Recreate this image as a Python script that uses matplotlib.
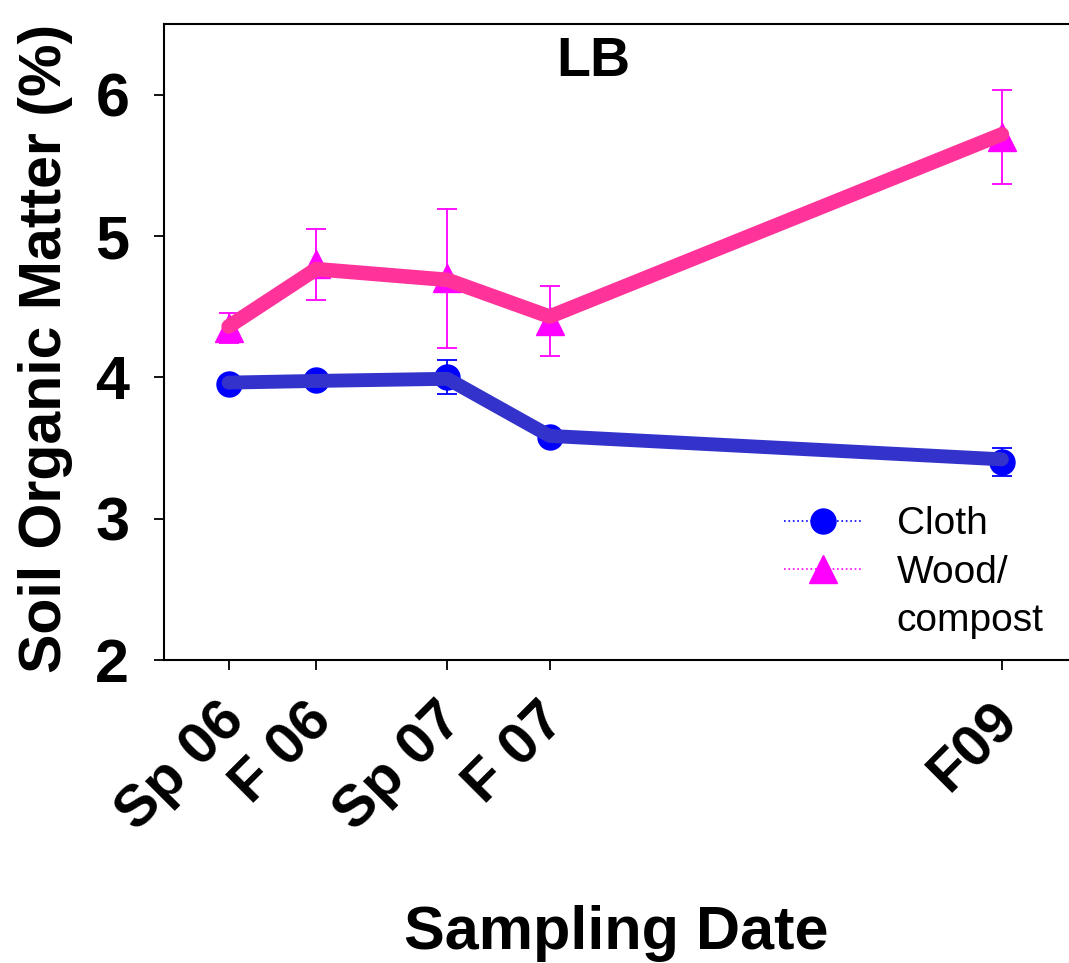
import matplotlib
matplotlib.use("Agg")
from matplotlib import pyplot as plt
from matplotlib.lines import Line2D
from matplotlib.transforms import ScaledTranslation

plt.rcParams['font.family'] = ['Liberation Sans', 'DejaVu Sans']

# sampling dates, as months after the first sampling
dates = [0, 6, 15, 22, 53]
date_labels = ["Sp 06", "F 06", "Sp 07", "F 07", "F09"]

cloth_mean = [3.955, 3.98, 4.005, 3.578, 3.40]
cloth_err = [0.04, 0.04, 0.12, 0.04, 0.10]
cloth_line = [3.963, 3.975, 3.99, 3.586, 3.42]

wood_mean = [4.35, 4.80, 4.70, 4.40, 5.70]
wood_err = [0.105, 0.25, 0.495, 0.248, 0.33]
wood_line = [4.36, 4.766, 4.69, 4.43, 5.72]

fig = plt.figure(figsize=(10.69, 9.63), dpi=100)
ax = fig.add_axes([0.1534, 0.3146, 0.8466, 0.6604])

# error bars
ax.errorbar(dates, cloth_mean, yerr=cloth_err, fmt="none", ecolor="#0000FF",
            elinewidth=1.3, capsize=7, capthick=1.3, zorder=1)
ax.errorbar(dates, wood_mean, yerr=wood_err, fmt="none", ecolor="#FF00FF",
            elinewidth=1.3, capsize=7, capthick=1.3, zorder=1)

# measured means
cloth_h, = ax.plot(dates, cloth_mean, color="#0000FF", marker="o",
                   markersize=18, linestyle=":", linewidth=1.2, zorder=2)
wood_h, = ax.plot(dates, wood_mean, color="#FF00FF", marker="^",
                  markersize=20, linestyle=":", linewidth=1.2, zorder=2)

# thick trend lines on top
ax.plot(dates, cloth_line, color="#3333CC", linewidth=10,
        solid_capstyle="round", solid_joinstyle="round", zorder=3)
ax.plot(dates, wood_line, color="#FF3399", linewidth=10.5,
        solid_capstyle="round", solid_joinstyle="round", zorder=3)

ax.set_xlim(-4.43, 57.6)
ax.set_ylim(2, 6.5)
ax.set_yticks([2, 3, 4, 5, 6])
ax.set_xticks(dates)

ax.tick_params(axis="both", direction="out", length=7, width=1.3)
ax.tick_params(axis="y", pad=18)
ax.tick_params(axis="x", pad=24)
ax.spines["right"].set_visible(False)
for s in ["left", "bottom", "top"]:
    ax.spines[s].set_linewidth(1.5)

ax.set_xticklabels(date_labels, rotation=45, ha="right", va="center",
                   rotation_mode="anchor", fontsize=42, fontweight="bold")
shift = ScaledTranslation(0.07, -0.09, fig.dpi_scale_trans)
for lab in ax.get_xticklabels():
    lab.set_transform(lab.get_transform() + shift)
for lab in ax.get_yticklabels():
    lab.set_fontsize(44)
    lab.set_fontweight("bold")

ax.set_ylabel("Soil Organic Matter (%)", fontsize=42.5, fontweight="bold")
ax.yaxis.set_label_coords(-0.1, 0.49)
ax.set_xlabel("Sampling Date", fontsize=44, fontweight="bold")
ax.xaxis.set_label_coords(0.5, -0.385)

ax.text(0.474, 0.94, "LB", transform=ax.transAxes, ha="center", va="center",
        fontsize=40, fontweight="bold")

blank = Line2D([], [], linestyle="none")
ax.legend([cloth_h, wood_h, blank], ["Cloth", "Wood/", "compost"],
          loc="lower right", bbox_to_anchor=(1.0105, -0.022), frameon=False,
          fontsize=28, handlelength=2.0, handletextpad=0.9, labelspacing=0.32)

fig.savefig("out.png", dpi=100)
